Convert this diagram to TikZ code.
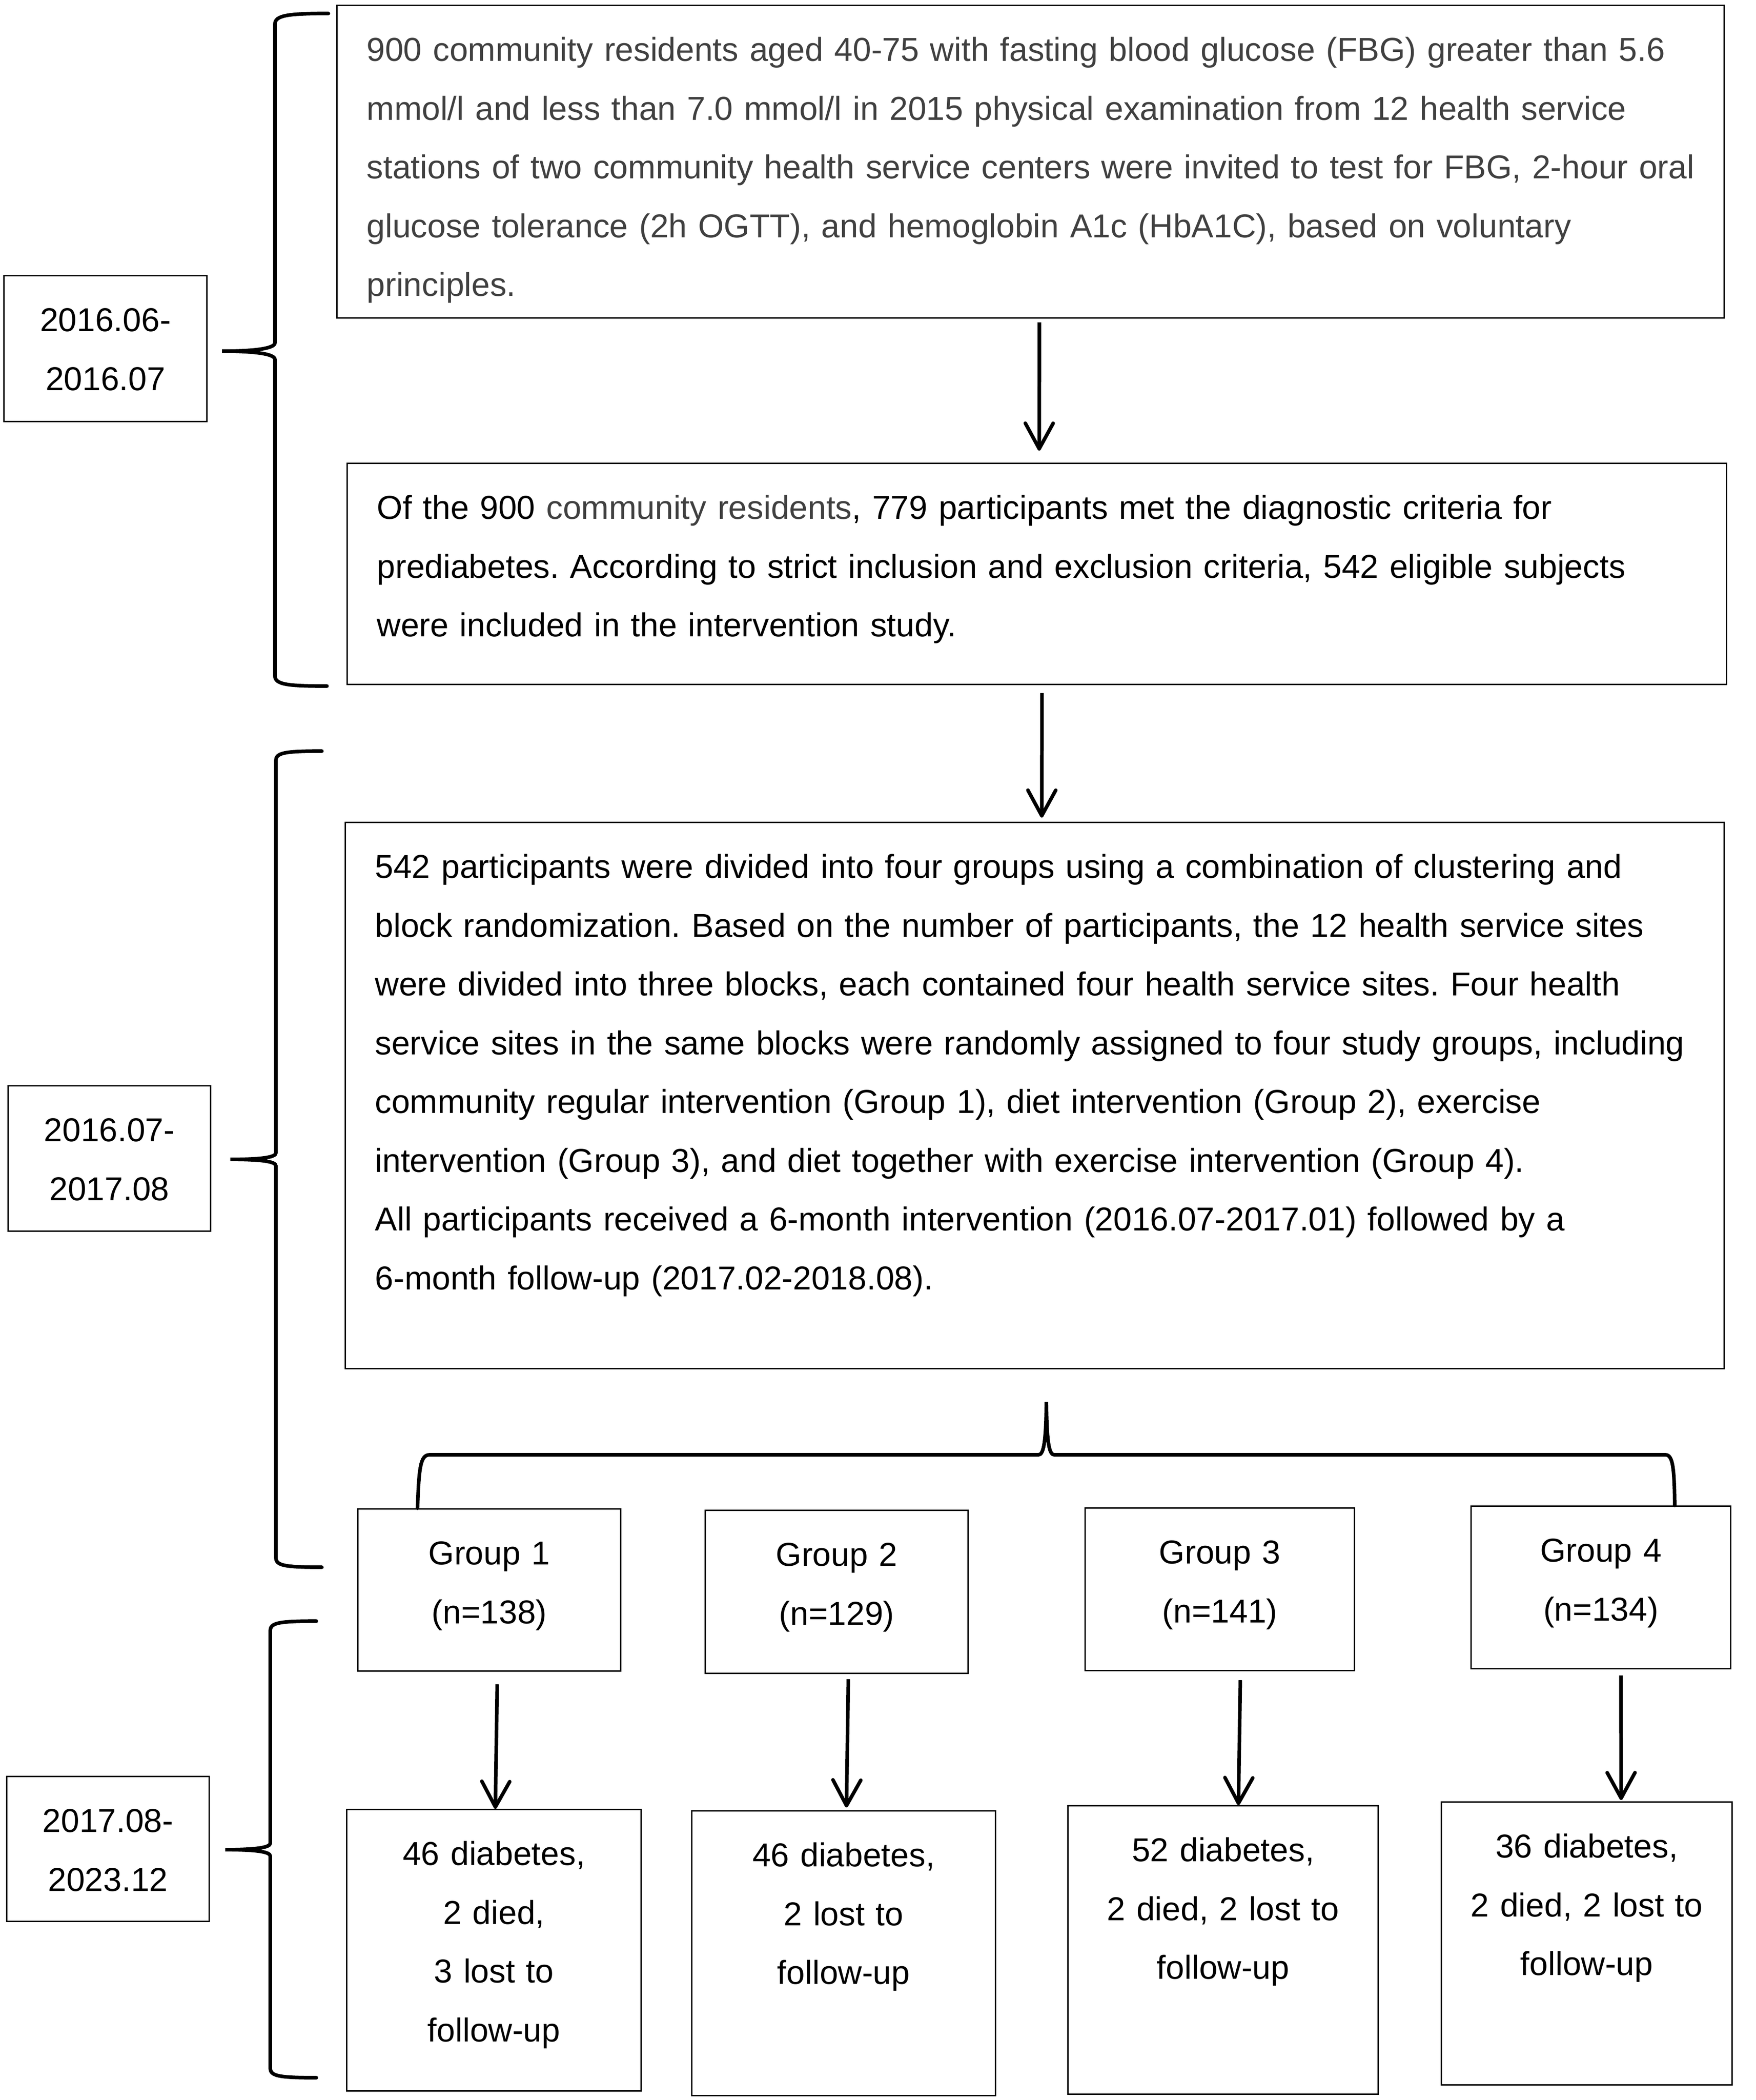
\documentclass[tikz,border=0pt]{standalone}
\usepackage{fontspec}
\setmainfont{Liberation Sans}
\usetikzlibrary{arrows.meta}
\definecolor{darktext}{RGB}{64,64,64}
\begin{document}
\begin{tikzpicture}
[
    every node/.style={font=\fontsize{20.3}{36}\selectfont\frenchspacing},
    panel/.style={draw, line width=0.9pt, anchor=north west, inner ysep=0pt, text height=1.2cm},
    wide/.style={panel, align=left, inner xsep=0.64cm},
    small/.style={panel, align=center, inner xsep=0pt},
    flow/.style={line width=2.2pt, -{Straight Barb[length=5.5mm, width=6mm, round]}},
    curly/.style={line width=2.2pt, line cap=round},
]
\useasboundingbox (0,0) rectangle (37.80,-45.21);

\node[wide, text width=28.59cm, text depth=5.53cm, text=darktext] (screening) at (7.24,-0.10)
    {900 community residents aged 40-75 with fasting blood glucose (FBG) greater than 5.6\\
     mmol/l and less than 7.0 mmol/l in 2015 physical examination from 12 health service\\
     stations of two community health service centers were invited to test for FBG, 2-hour oral\\
     glucose tolerance (2h OGTT), and hemoglobin A1c (HbA1C), based on voluntary\\
     principles.};
\node[wide, text width=28.42cm, text depth=3.56cm] (eligible) at (7.46,-9.96)
    {Of the 900 \textcolor{darktext}{community residents}, 779 participants met the diagnostic criteria for\\
     prediabetes. According to strict inclusion and exclusion criteria, 542 eligible subjects\\
     were included in the intervention study.};
\node[wide, text width=28.41cm, text depth=10.56cm] (grouping) at (7.42,-17.69)
    {542 participants were divided into four groups using a combination of clustering and\\
     block randomization. Based on the number of participants, the 12 health service sites\\
     were divided into three blocks, each contained four health service sites. Four health\\
     service sites in the same blocks were randomly assigned to four study groups, including\\
     community regular intervention (Group 1), diet intervention (Group 2), exercise\\
     intervention (Group 3), and diet together with exercise intervention (Group 4).\\
     All participants received a 6-month intervention (2016.07-2017.01) followed by a\\
     6-month follow-up (2017.02-2018.08).};

\node[small, text width=4.37cm, text depth=1.94cm] (period1) at (0.07,-5.92) {2016.06-\\2016.07};
\node[small, text width=4.36cm, text depth=1.93cm] (period2) at (0.16,-23.36) {2016.07-\\2017.08};
\node[small, text width=4.36cm, text depth=1.92cm] (period3) at (0.13,-38.23) {2017.08-\\2023.12\hspace*{0.5cm}};

\node[small, text width=5.66cm, text depth=2.29cm] (group1) at (7.69,-32.47) {Group 1\\(n=138)};
\node[small, text width=5.66cm, text depth=2.31cm] (group2) at (15.17,-32.50) {Group 2\\(n=129)};
\node[small, text width=5.80cm, text depth=2.30cm] (group3) at (23.35,-32.45) {Group 3\\(n=141)};
\node[small, text width=5.59cm, text depth=2.30cm] (group4) at (31.66,-32.41) {Group 4\\(n=134)};

\node[small, text width=6.34cm, text depth=4.86cm] (outcome1) at (7.45,-38.94) {46 diabetes,\\2 died,\\3 lost to\\follow-up};
\node[small, text width=6.54cm, text depth=4.93cm] (outcome2) at (14.88,-38.97) {46 diabetes,\\2 lost to\\follow-up};
\node[small, text width=6.68cm, text depth=5.01cm] (outcome3) at (22.98,-38.86) {52 diabetes,\\2 died, 2 lost to\\follow-up};
\node[small, text width=6.26cm, text depth=4.89cm] (outcome4) at (31.02,-38.78) {36 diabetes,\\2 died, 2 lost to\\follow-up};

\draw[flow] ([xshift=0.19cm,yshift=-0.08cm]screening.south) -- ([xshift=0.05cm,yshift=0.26cm]eligible.north);
\draw[flow] ([xshift=0.11cm,yshift=-0.17cm]eligible.south) -- ([xshift=0.15cm,yshift=0.09cm]grouping.north);
\draw[flow] ([xshift=0.17cm,yshift=-0.27cm]group1.south) -- ([xshift=0.03cm]outcome1.north);
\draw[flow] ([xshift=0.25cm,yshift=-0.11cm]group2.south) -- ([xshift=0.06cm,yshift=0.06cm]outcome2.north);
\draw[flow] ([xshift=0.44cm,yshift=-0.19cm]group3.south) -- ([xshift=0.33cm]outcome3.north);
\draw[flow] ([xshift=0.43cm,yshift=-0.13cm]group4.south) -- ([xshift=0.74cm,yshift=0.03cm]outcome4.north);

\draw[curly] (7.07,-0.29) .. controls (6.20,-0.29) and (5.92,-0.33) .. (5.92,-0.52)
    -- (5.92,-7.38) .. controls (5.92,-7.50) and (5.50,-7.56) .. (4.78,-7.56)
    .. controls (5.50,-7.56) and (5.92,-7.62) .. (5.92,-7.74)
    -- (5.92,-14.55) .. controls (5.92,-14.74) and (6.20,-14.77) .. (7.04,-14.77);
\draw[curly] (6.93,-16.17) .. controls (6.10,-16.17) and (5.94,-16.21) .. (5.94,-16.38)
    -- (5.94,-24.82) .. controls (5.94,-24.92) and (5.60,-24.96) .. (4.96,-24.96)
    .. controls (5.60,-24.96) and (5.94,-25.00) .. (5.94,-25.10)
    -- (5.94,-33.53) .. controls (5.94,-33.70) and (6.10,-33.74) .. (6.93,-33.74);
\draw[curly] (6.81,-34.90) .. controls (5.98,-34.90) and (5.82,-34.94) .. (5.82,-35.11)
    -- (5.82,-39.68) .. controls (5.82,-39.78) and (5.48,-39.82) .. (4.85,-39.82)
    .. controls (5.48,-39.82) and (5.82,-39.86) .. (5.82,-39.96)
    -- (5.82,-44.52) .. controls (5.82,-44.69) and (5.98,-44.73) .. (6.81,-44.73);

\draw[curly] ([xshift=1.30cm]group1.north west) .. controls +(0.03,0.87) and (9.05,-31.32) .. (9.25,-31.32)
    -- (22.36,-31.32) .. controls (22.48,-31.32) and (22.52,-31.00) .. (22.53,-30.18)
    .. controls (22.54,-31.00) and (22.58,-31.32) .. (22.70,-31.32)
    -- (35.86,-31.32) .. controls (36.02,-31.32) and (36.05,-31.60) .. ([xshift=4.40cm]group4.north west);
\end{tikzpicture}
\end{document}
